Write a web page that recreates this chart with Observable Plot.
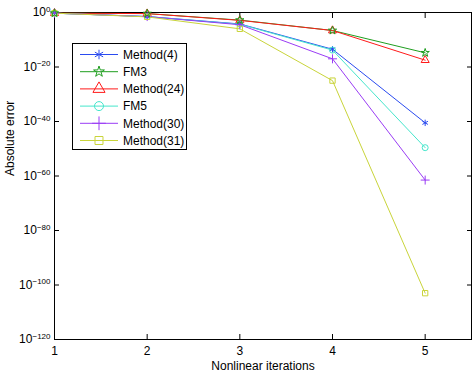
<!DOCTYPE html>
<html><head><meta charset="utf-8">
<script src="https://cdn.jsdelivr.net/npm/d3@7"></script>
<script src="https://cdn.jsdelivr.net/npm/@observablehq/plot@0.6"></script>
<style>
body{margin:0;background:#fff}
#chart{width:474px;height:371px}
svg{font-family:"Liberation Sans",Arial,sans-serif}
</style>
</head><body><div id="chart"></div>
<script>
const iterations = [1, 2, 3, 4, 5];
const method4  = [0.56, 0.032, 6.3e-5, 3.2e-14, 3.2e-41];
const fm3      = [0.56, 0.4, 1.6e-3, 2.5e-7, 1.6e-15];
const method24 = [0.56, 0.4, 1.3e-3, 2.5e-7, 3.2e-18];
const fm5      = [0.56, 0.032, 5e-5, 1.6e-14, 2.5e-50];
const method30 = [0.56, 0.032, 3.2e-5, 1e-17, 3.2e-62];
const method31 = [0.56, 0.025, 1e-6, 1e-25, 1e-103];
const seriesNames = ["Method(4)", "FM3", "Method(24)", "FM5", "Method(30)", "Method(31)"];
const seriesValues = [method4, fm3, method24, fm5, method30, method31];
const seriesColors = ["#2a4bf0", "#1f9e1f", "#ff1a1a", "#45e6cc", "#9a3cf5", "#c9d43a"];
const seriesSymbols = ["asterisk", "star", "triangle", "circle", "plus", "square"];
const xTicks = [1, 2, 3, 4, 5];
const yTicks = [1, 1e-20, 1e-40, 1e-60, 1e-80, 1e-100, 1e-120];
const yTickExponents = ["0", "−20", "−40", "−60", "−80", "−100", "−120"];
const xLabel = "Nonlinear iterations";
const yLabel = "Absolute error";

const rows = seriesValues.flatMap((vals, i) =>
  vals.map((v, j) => ({x: iterations[j], y: v, s: seriesNames[i]})));

const plot = Plot.plot({
  width: 474, height: 371,
  marginLeft: 54, marginRight: 3, marginTop: 12, marginBottom: 32,
  style: {fontFamily: '"Liberation Sans",Arial,sans-serif', fontSize: "12px", background: "#fff", color: "#000"},
  x: {domain: [1, 5.5]},
  y: {type: "log", domain: [1e-120, 1]},
  color: {domain: seriesNames, range: seriesColors},
  symbol: {domain: seriesNames, range: seriesSymbols},
  marks: [
    Plot.axisX({ticks: xTicks, tickSize: -5, tickPadding: 12, tickFormat: d => String(d), label: null, fontSize: 12}),
    Plot.axisX({anchor: "top", ticks: xTicks, tickSize: -5, tickFormat: () => "", label: null}),
    Plot.axisY({ticks: yTicks, tickSize: -5, tickPadding: 9, tickFormat: d => "10|" + yTickExponents[yTicks.indexOf(d)], label: null}),
    Plot.axisY({anchor: "right", ticks: yTicks, tickSize: -5, tickFormat: () => "", label: null}),
    Plot.frame({stroke: "#000", strokeWidth: 1}),
    Plot.line(rows, {x: "x", y: "y", z: "s", stroke: "s", strokeWidth: 1}),
    Plot.dot(rows, {x: "x", y: "y", symbol: "s", stroke: "s", fill: "none", r: d => d.s === "FM3" ? 3.4 : 4.5, strokeWidth: 1}),
    Plot.text([xLabel], {frameAnchor: "bottom", dy: 30, fontSize: 12, fill: "#000"}),
    Plot.text([yLabel], {frameAnchor: "left", dx: -44, rotate: -90, fontSize: 12, fill: "#000"})
  ]
});
document.getElementById("chart").appendChild(plot);

// superscript exponents on y tick labels
const svg = d3.select(plot);
svg.selectAll('g[aria-label="y-axis tick label"] text').each(function() {
  const t = d3.select(this);
  const parts = t.text().split("|");
  if (parts.length < 2) return;
  t.text("");
  t.append("tspan").text(parts[0]);
  t.append("tspan").attr("dy", "-0.55em").attr("font-size", 8).text(parts[1]);
});

// legend
const lg = svg.append("g").attr("font-size", 12).attr("text-anchor", "start");
lg.append("rect").attr("x", 72.5).attr("y", 43.5).attr("width", 114).attr("height", 106)
  .attr("fill", "#fff").attr("stroke", "#000");
const symMap = {asterisk: d3.symbolAsterisk, star: d3.symbolStar, triangle: d3.symbolTriangle,
  circle: d3.symbolCircle, plus: d3.symbolPlus, square: d3.symbolSquare};
seriesNames.forEach((name, i) => {
  const y = 54.5 + i * 17.2;
  const r = seriesSymbols[i] === "star" ? 3.4 : 4.5;
  lg.append("line").attr("x1", 80).attr("x2", 118).attr("y1", y).attr("y2", y)
    .attr("stroke", seriesColors[i]).attr("stroke-width", 1);
  lg.append("path").attr("transform", `translate(99,${y})`)
    .attr("d", d3.symbol(symMap[seriesSymbols[i]], Math.PI * r * r)())
    .attr("fill", "none").attr("stroke", seriesColors[i]);
  lg.append("text").attr("x", 123).attr("y", y).attr("dy", "0.35em").attr("fill", "#000")
    .attr("text-anchor", "start").text(name);
});
</script></body></html>
